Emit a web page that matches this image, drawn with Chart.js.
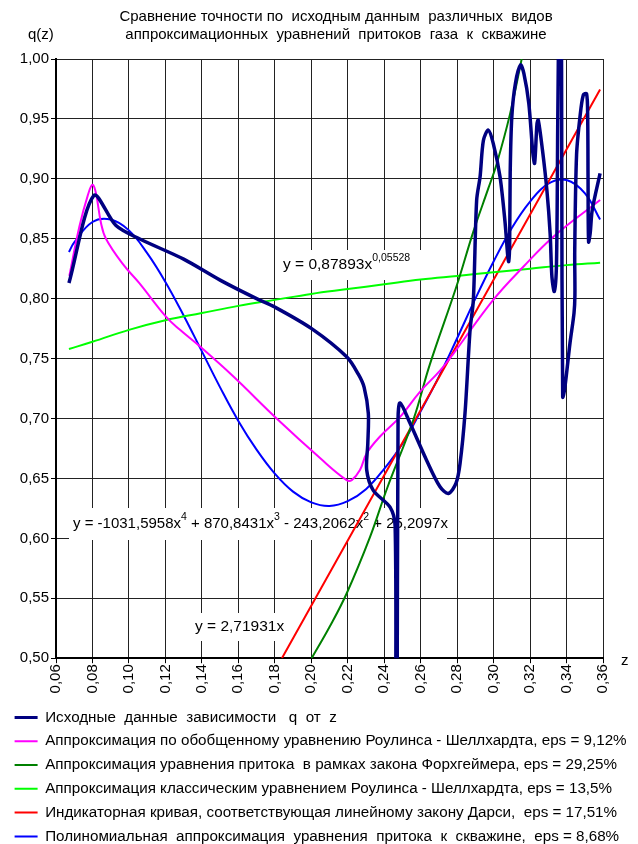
<!DOCTYPE html>
<html>
<head>
<meta charset="utf-8">
<script src="https://cdn.jsdelivr.net/npm/chart.js@4.4.0/dist/chart.umd.min.js"></script>
<style>
  body { margin: 0; background: #fff; }
  canvas { display: block; }
</style>
</head>
<body>
<canvas id="chart" width="638" height="844"></canvas>
<script>
const FONT = "'Liberation Sans', Arial, sans-serif";

const titleLines = [
    "Сравнение точности по  исходным данным  различных  видов",
    "аппроксимационных  уравнений  притоков  газа  к  скважине"
];

const seriesLabels = [
    "Исходные  данные  зависимости   q  от  z",
    "Аппроксимация по обобщенному уравнению Роулинса - Шеллхардта, eps = 9,12%",
    "Аппроксимация уравнения притока  в рамках закона Форхгеймера, eps = 29,25%",
    "Аппроксимация классическим уравнением Роулинса - Шеллхардта, eps = 13,5%",
    "Индикаторная кривая, соответствующая линейному закону Дарси,  eps = 17,51%",
    "Полиномиальная  аппроксимация  уравнения  притока  к  скважине,  eps = 8,68%"
];
const seriesColors = ['#000080', '#ff00ff', '#008000', '#00ff00', '#ff0000', '#0000ff'];

// source data q(z)
const srcZ = [0.0671, 0.0807, 0.0929, 0.1057, 0.1300, 0.1500, 0.1700, 0.1800, 0.2002, 0.2194, 0.2258, 0.2290,
    0.2313, 0.2310, 0.2304, 0.2340, 0.2432, 0.2460, 0.2464, 0.2470, 0.2476, 0.2487, 0.2542, 0.2633, 0.2706,
    0.2752, 0.2794, 0.2816, 0.2843, 0.2871, 0.2889, 0.2907, 0.2926, 0.2944, 0.2971, 0.2998, 0.3035, 0.3062,
    0.3078, 0.3083, 0.3088, 0.3091, 0.3100, 0.3120, 0.3148, 0.3166, 0.3193, 0.3215, 0.3225, 0.3238, 0.3245,
    0.3268, 0.3292, 0.3310, 0.3320, 0.3333, 0.3345, 0.3352, 0.3362, 0.3370, 0.3374, 0.3379, 0.3390, 0.3419,
    0.3441, 0.3446, 0.3445, 0.3455, 0.3474, 0.3492, 0.3510, 0.3516, 0.3518, 0.3521, 0.3530, 0.3541, 0.3584];
const srcQ = [0.813, 0.886, 0.861, 0.850, 0.833, 0.8155, 0.800, 0.793, 0.775, 0.7515, 0.737, 0.726,
    0.704, 0.679, 0.657, 0.640, 0.626, 0.610, 0.420, 0.420, 0.700, 0.713, 0.696, 0.665, 0.643,
    0.6375, 0.646, 0.6625, 0.704, 0.774, 0.799, 0.882, 0.902, 0.932, 0.9407, 0.9296, 0.902, 0.865,
    0.835, 0.831, 0.845, 0.905, 0.952, 0.980, 0.995, 0.988, 0.963, 0.922, 0.913, 0.946, 0.949,
    0.924, 0.891, 0.8545, 0.818, 0.806, 0.830, 0.950, 1.080, 1.080, 0.900, 0.718, 0.725, 0.763,
    0.788, 0.803, 0.840, 0.920, 0.952, 0.970, 0.971, 0.952, 0.900, 0.8475, 0.855, 0.874, 0.9046];

// generalized Rawlins - Schellhardt
const genZ = [0.0673, 0.0728, 0.0774, 0.0800, 0.0819, 0.0847, 0.0874, 0.0966, 0.1057, 0.1203, 0.1280, 0.1390,
    0.1573, 0.1810, 0.2048, 0.2194, 0.2222, 0.2267, 0.2304, 0.2377, 0.2487, 0.2596, 0.2706, 0.2779, 0.2998,
    0.3163, 0.3328, 0.3584];
const genQ = [0.819, 0.860, 0.886, 0.895, 0.888, 0.863, 0.850, 0.829, 0.813, 0.785, 0.774, 0.760,
    0.735, 0.700, 0.667, 0.6486, 0.6486, 0.657, 0.671, 0.685, 0.7014, 0.7223, 0.740, 0.754, 0.799,
    0.8266, 0.8517, 0.8823];

// Forchheimer
const forZ = [0.2002, 0.2100, 0.2194, 0.2322, 0.2414, 0.2560, 0.2650, 0.2798, 0.2889, 0.2971, 0.3016, 0.3090, 0.3154];
const forQ = [0.500, 0.526, 0.554, 0.601, 0.641, 0.699, 0.745, 0.811, 0.856, 0.892, 0.912, 0.954, 1.000];

// classic Rawlins - Schellhardt
const clsZ = [0.0671, 0.08, 0.10, 0.12, 0.14, 0.16, 0.18, 0.20, 0.22, 0.24, 0.26, 0.28, 0.30, 0.32, 0.34, 0.3584];
const clsQ = [0.758, 0.764, 0.774, 0.782, 0.788, 0.794, 0.799, 0.804, 0.808, 0.812, 0.816, 0.819, 0.822, 0.825, 0.828, 0.830];

// Darcy line
const darZ = [0.1839, 0.3584];
const darQ = [0.500, 0.9746];

// polynomial
const polZ = [0.0671, 0.07, 0.08, 0.09, 0.10, 0.11, 0.12, 0.13, 0.14, 0.15, 0.16, 0.17, 0.18, 0.19, 0.20,
    0.21, 0.22, 0.23, 0.24, 0.25, 0.26, 0.27, 0.28, 0.29, 0.30, 0.31, 0.32, 0.33, 0.34, 0.35, 0.3584];
const polQ = [0.839, 0.847, 0.864, 0.866, 0.857, 0.838, 0.814, 0.786, 0.756, 0.726, 0.698, 0.674, 0.654, 0.639, 0.630,
    0.627, 0.631, 0.641, 0.658, 0.679, 0.706, 0.735, 0.767, 0.800, 0.831, 0.859, 0.881, 0.896, 0.899, 0.888, 0.866];

function pts(xs, ys) {
    return xs.map((x, i) => ({ x: x, y: ys[i] }));
}

const seriesData = [
    pts(srcZ, srcQ), pts(genZ, genQ), pts(forZ, forQ),
    pts(clsZ, clsQ), pts(darZ, darQ), pts(polZ, polQ)
];

function fmt(v) {
    return v.toFixed(2).replace('.', ',');
}

// equation labels: pieces of [text, isSuperscript]
const equations = [
    { x: 283, y: 265, size: 15.5, box: [279, 250, 142, 30], parts: [["y = 0,87893x", false], ["0,05528", true]] },
    { x: 73, y: 524, size: 15, box: [69, 508, 378, 32], parts: [["y = -1031,5958x", false], ["4", true], [" + 870,8431x", false], ["3", true],
        [" - 243,2062x", false], ["2", true], [" + 25,2097x", false]] },
    { x: 195, y: 627, size: 15.5, box: [191, 613, 100, 28], parts: [["y = 2,71931x", false]] }
];

const equationPlugin = {
    id: 'equations',
    beforeDatasetsDraw(chart) {
        const ctx = chart.ctx;
        ctx.save();
        equations.forEach(eq => {
            ctx.fillStyle = '#fff';
            ctx.fillRect(eq.box[0], eq.box[1], eq.box[2], eq.box[3]);
            let x = eq.x;
            ctx.fillStyle = '#000';
            ctx.textBaseline = 'middle';
            ctx.textAlign = 'left';
            eq.parts.forEach(([t, sup]) => {
                ctx.font = (sup ? '10.5px ' : eq.size + 'px ') + FONT;
                ctx.fillText(t, x, sup ? eq.y - 7 : eq.y);
                x += ctx.measureText(t).width;
            });
        });
        ctx.restore();
    }
};

const textPlugin = {
    id: 'texts',
    afterDraw(chart) {
        const ctx = chart.ctx;
        ctx.save();
        ctx.fillStyle = '#000';
        ctx.textBaseline = 'middle';
        ctx.font = '15px ' + FONT;
        ctx.textAlign = 'center';
        ctx.fillText(titleLines[0], 336, 17);
        ctx.fillText(titleLines[1], 336, 35);
        ctx.textAlign = 'left';
        ctx.fillText('q(z)', 28, 35);
        ctx.fillText('z', 621, 661);
        ctx.restore();
    }
};

new Chart(document.getElementById('chart'), {
    type: 'scatter',
    data: {
        datasets: seriesData.map((d, i) => ({
            label: seriesLabels[i],
            data: d,
            showLine: true,
            borderColor: seriesColors[i],
            backgroundColor: seriesColors[i],
            borderWidth: i === 0 ? 3.5 : 2,
            pointRadius: 0,
            pointHoverRadius: 0,
            tension: i === 0 ? 0.3 : 0.4
        }))
    },
    options: {
        responsive: false,
        animation: false,
        layout: { padding: { left: 6, right: 0, top: 59, bottom: -10 } },
        scales: {
            x: {
                type: 'linear',
                min: 0.06,
                max: 0.36,
                afterFit: s => { s.height = 43; },
                ticks: {
                    stepSize: 0.02,
                    autoSkip: false,
                    minRotation: 90,
                    maxRotation: 90,
                    padding: 1,
                    color: '#000',
                    font: { size: 15, family: FONT },
                    callback: v => fmt(v)
                },
                grid: { color: '#222', lineWidth: 1, tickLength: 5, tickColor: '#000' },
                border: { color: '#000', width: 2 }
            },
            y: {
                min: 0.5,
                max: 1.0,
                afterFit: s => { s.width = 50; },
                ticks: {
                    stepSize: 0.05,
                    padding: 2,
                    color: '#000',
                    font: { size: 15, family: FONT },
                    callback: v => fmt(v)
                },
                grid: { color: '#222', lineWidth: 1, tickLength: 5, tickColor: '#000' },
                border: { color: '#000', width: 2 }
            },
            // empty right-side spacer so the legend can use the full width
            spacer: {
                type: 'linear',
                position: 'right',
                min: 0.5,
                max: 1.0,
                afterFit: s => { s.width = 35; },
                ticks: { display: false },
                grid: { display: false },
                border: { display: false }
            }
        },
        plugins: {
            tooltip: { enabled: false },
            legend: {
                position: 'bottom',
                align: 'start',
                labels: {
                    usePointStyle: true,
                    pointStyleWidth: 23,
                    padding: 8.6,
                    color: '#000',
                    font: { size: 15.2, family: FONT },
                    generateLabels: chart => chart.data.datasets.map((d, i) => ({
                        text: d.label,
                        strokeStyle: d.borderColor,
                        fillStyle: d.borderColor,
                        lineWidth: i === 0 ? 3 : 2,
                        pointStyle: 'line',
                        hidden: false,
                        datasetIndex: i
                    }))
                }
            }
        }
    },
    plugins: [equationPlugin, textPlugin]
});
</script>
</body>
</html>
